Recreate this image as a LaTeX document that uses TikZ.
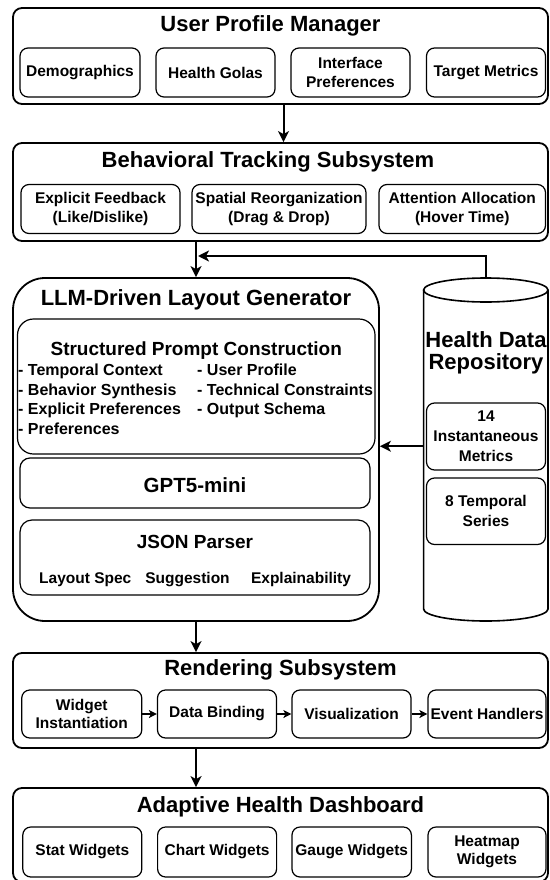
\documentclass[tikz,border=0pt]{standalone}
\usepackage{fontspec}
\setmainfont{Liberation Sans}
\usetikzlibrary{arrows.meta}
\newcommand\TitleFont{\fontsize{22}{22}\selectfont\bfseries}
\newcommand\SubFont{\fontsize{19}{22}\selectfont\bfseries}
\newcommand\SmallFont{\fontsize{15.5}{18.5}\selectfont\bfseries}
\newcommand\ListFont{\fontsize{16}{19}\selectfont\bfseries}
\begin{document}
\begin{tikzpicture}[x=1pt,y=-1pt,
  grp/.style={draw,line width=1.8pt,rounded corners=9pt,inner sep=0pt},
  sub/.style={draw,line width=1.2pt,rounded corners=8pt,inner sep=0pt,align=center,font=\SmallFont},
  ttl/.style={inner sep=0pt,font=\TitleFont,text height=15.8pt,text depth=0pt},
  hd/.style={inner sep=0pt,font=\SubFont,text height=13.6pt,text depth=0pt},
  lst/.style={anchor=west,inner sep=0pt,font=\ListFont,text height=11.5pt,text depth=0pt},
  itm/.style={inner sep=0pt,font=\SmallFont,text height=11.1pt,text depth=0pt},
  cyl/.style={line width=1.6pt},
  arr/.style={-{Stealth[length=11pt,width=11pt,inset=3pt]},line width=2pt},
  sarr/.style={-{Stealth[length=8pt,width=8pt,inset=2pt]},line width=1.3pt}]
\useasboundingbox (0,0) rectangle (549,880);

% User Profile Manager
\node[grp,minimum width=535pt,minimum height=96pt] (upm) at (280.5,56) {};
\node[ttl] (upmT) at (270.5,24) {User Profile Manager};
\node[sub,minimum width=120pt,minimum height=49pt] (demo) at (80,72.5) {Demographics};
\node[sub,minimum width=119pt,minimum height=49pt] (hg) at (215.5,72.5) {Health Golas};
\node[sub,minimum width=119pt,minimum height=49pt] (ip) at (350.5,72.5) {Interface\\Preferences};
\node[sub,minimum width=119pt,minimum height=49pt] (tm) at (486,72.5) {Target Metrics};

% Behavioral Tracking Subsystem
\node[grp,minimum width=535pt,minimum height=98pt] (bts) at (280.5,192) {};
\node[ttl] (btsT) at (268,160) {Behavioral Tracking Subsystem};
\node[sub,minimum width=159pt,minimum height=49pt] (ef) at (100.5,209) {Explicit Feedback\\(Like/Dislike)};
\node[sub,minimum width=174pt,minimum height=49pt] (sr) at (279,209) {Spatial Reorganization\\(Drag \& Drop)};
\node[sub,minimum width=166.5pt,minimum height=49pt] (aa) at (462.25,209) {Attention Allocation\\(Hover Time)};

% LLM-Driven Layout Generator
\node[grp,rounded corners=32pt,minimum width=366pt,minimum height=343pt] (llm) at (196,449.5) {};
\node[ttl] (llmT) at (196,298) {LLM-Driven Layout Generator};
\node[sub,rounded corners=16pt,minimum width=357.5pt,minimum height=135pt] (spc) at (196.25,386.5) {};
\node[hd] (spcT) at (196.25,349) {Structured Prompt Construction};
\node[lst] (l1) at (18,370) {- Temporal Context};
\node[lst] (l2) at (18,389.5) {- Behavior Synthesis};
\node[lst] (l3) at (18,409) {- Explicit Preferences};
\node[lst] (l4) at (18,429) {- Preferences};
\node[lst] (r1) at (197,370) {- User Profile};
\node[lst] (r2) at (197,389.5) {- Technical Constraints};
\node[lst] (r3) at (197,409) {- Output Schema};
\node[sub,rounded corners=10pt,minimum width=350pt,minimum height=50pt] (gpt) at (195,483) {};
\node[hd,font=\fontsize{20.5}{22}\selectfont\bfseries,text height=14.7pt] (gptT) at (195,485) {GPT5-mini};
\node[sub,rounded corners=12pt,minimum width=350pt,minimum height=75pt] (json) at (195,557.5) {};
\node[hd] (jsonT) at (195,542) {JSON Parser};
\node[itm] (ls) at (85.25,578) {Layout Spec};
\node[itm] (sg) at (187.5,578) {Suggestion};
\node[itm] (ex) at (301,578) {Explainability};

% Health Data Repository (cylinder)
\node[inner sep=0pt,minimum width=124.4pt,minimum height=343.5pt] (hdr) at (485.8,449.75) {};
\draw[cyl] (423.6,290) -- (423.6,609) arc[start angle=180,end angle=360,x radius=62.2pt,y radius=12pt] -- (548,290);
\draw[cyl] (485.8,290) ellipse [x radius=62.2pt,y radius=12pt];
\node[inner sep=0pt,font=\fontsize{22}{21.5}\selectfont\bfseries,align=center] (hdrT) at (486,353) {Health Data\\Repository};
\node[sub,minimum width=119pt,minimum height=67pt,font=\fontsize{15.5}{20}\selectfont\bfseries] (im) at (486,436.5) {14\\Instantaneous\\Metrics};
\node[sub,minimum width=119pt,minimum height=66.5pt,font=\fontsize{15.5}{20}\selectfont\bfseries] (ts) at (486,511.25) {8 Temporal\\Series};

% Rendering Subsystem
\node[grp,minimum width=535pt,minimum height=95pt] (rs) at (280.5,700.5) {};
\node[ttl] (rsT) at (280.5,668) {Rendering Subsystem};
\node[sub,minimum width=120pt,minimum height=48pt] (wi) at (81.75,714) {Widget\\Instantiation};
\node[sub,minimum width=119pt,minimum height=48pt] (db) at (217,714) {Data Binding};
\node[sub,minimum width=119pt,minimum height=48pt] (vis) at (351.5,714) {Visualization};
\node[sub,minimum width=118pt,minimum height=48pt] (eh) at (487,714) {Event Handlers};

% Adaptive Health Dashboard
\node[grp,minimum width=535pt,minimum height=94pt] (ahd) at (280.5,835) {};
\node[ttl] (ahdT) at (280.5,804.5) {Adaptive Health Dashboard};
\node[sub,minimum width=119pt,minimum height=50pt] (sw) at (82.3,852) {Stat Widgets};
\node[sub,minimum width=119pt,minimum height=50pt] (cw) at (217.1,852) {Chart Widgets};
\node[sub,minimum width=119.4pt,minimum height=50pt] (gw) at (351.7,852) {Gauge Widgets};
\node[sub,minimum width=118pt,minimum height=50pt] (hw) at (487,852) {Heatmap\\Widgets};

% connectors
\coordinate (fb) at (198,256);
\draw[arr] ([xshift=3pt]upm.south) -- ([xshift=3pt]bts.north);
\draw[arr] (bts.south -| llm.north) -- (llm.north);
\draw[arr] (hdr.north) |- (fb);
\draw[arr] ([yshift=3.5pt]hdr.west) -- ([yshift=3.5pt]hdr.west -| llm.east);
\draw[arr] (llm.south) -- (llm.south |- rs.north);
\draw[sarr] (wi) -- (db);
\draw[sarr] (db) -- (vis);
\draw[sarr] (vis) -- (eh);
\draw[arr] (rs.south -| llm.south) -- (llm.south |- ahd.north);
\end{tikzpicture}
\end{document}
